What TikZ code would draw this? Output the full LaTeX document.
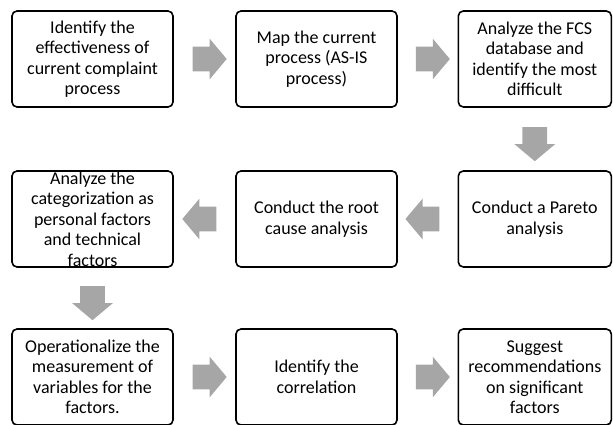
\documentclass[tikz,border=0pt]{standalone}
\usepackage{fontspec}
\setmainfont{Carlito}
\usetikzlibrary{shapes.arrows,calc}

\definecolor{arrowgray}{RGB}{166,166,166}

\tikzset{every picture/.style={line width=0.75pt}}
\tikzset{
  stepbox/.style={draw, line width=1.6, rounded corners=5, align=center,
    inner sep=0, font=\fontsize{18}{20.5}\selectfont},
  widebox/.style={stepbox, minimum width=161, minimum height=96},
  narrowbox/.style={stepbox, minimum width=153, minimum height=96},
  blockarrow/.style={single arrow, fill=arrowgray, draw=none, inner xsep=0,
    inner ysep=12, minimum height=34, single arrow head extend=8,
    single arrow tip angle=100},
  downarrow/.style={blockarrow, rotate=-90}
}

\begin{document}
\begin{tikzpicture}[x=1pt,y=1pt,yscale=-1,xscale=1]
\useasboundingbox (0,0) rectangle (613,425);

% Row 1
\node [widebox] (id1) at (92.5,59) {Identify the\\effectiveness of\\current complaint\\process};
\node [widebox] (map) at (316.5,59) {Map the current\\process (AS-IS\\process)};
\node [narrowbox] (fcs) at (534.8,59) {Analyze the FCS\\database and\\identify the most\\difficult};

% Row 2
\node [narrowbox] (par) at (534.8,219) {Conduct a Pareto\\analysis};
\node [widebox] (root) at (316.5,219) {Conduct the root\\cause analysis};
\node [widebox] (cat) at (92.5,219) {Analyze the\\categorization as\\personal factors\\and technical\\factors};

% Row 3
\node [widebox] (oper) at (92.5,377) {Operationalize the\\measurement of\\variables for the\\factors.};
\node [widebox] (corr) at (316.5,377) {Identify the\\correlation};
\node [narrowbox] (sug) at (534.8,377) {Suggest\\recommendations\\on significant\\factors};

% Block arrows
\node [blockarrow] (a1) at ($(id1.east)!0.5!(map.west)$) {};
\node [blockarrow] (a2) at ($(map.east)!0.5!(fcs.west)$) {};
\node [downarrow] (a3) at ($(fcs.south)!0.5!(par.north)$) {};
\node [blockarrow, shape border rotate=180] (a4) at ($(par.west)!0.5!(root.east)$) {};
\node [blockarrow, shape border rotate=180] (a5) at ($(root.west)!0.5!(cat.east)$) {};
\node [downarrow] (a6) at ($(cat.south)!0.5!(oper.north)$) {};
\node [blockarrow] (a7) at ($(oper.east)!0.5!(corr.west)$) {};
\node [blockarrow] (a8) at ($(corr.east)!0.5!(sug.west)$) {};

\end{tikzpicture}
\end{document}
